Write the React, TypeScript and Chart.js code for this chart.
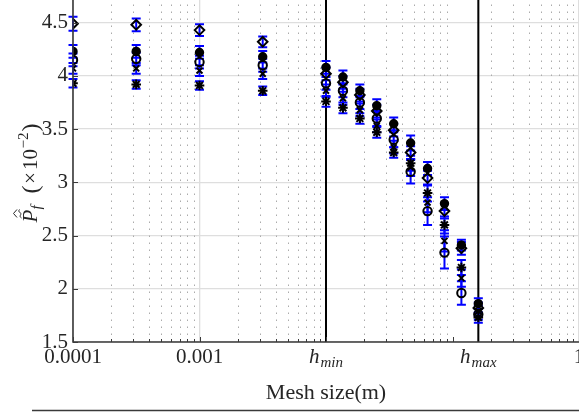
import React, { useEffect, useRef } from 'react';
import { Chart, registerables } from 'chart.js';

Chart.register(...registerables);

// Mesh sizes (m) at which the estimators were evaluated
const meshSizes = [
  0.0001, 0.000316, 0.001, 0.00316, 0.01, 0.01361, 0.01852, 0.0252, 0.03429, 0.04666, 0.0635,
  0.08641, 0.11758, 0.16,
];

const H_MIN = 0.01;
const H_MAX = 0.16;

// Estimated failure probability (x10^-2), one list per estimator
const diamondValues = [4.49, 4.48, 4.43, 4.32, 4.02, 3.94, 3.82, 3.67, 3.49, 3.28, 3.04, 2.73, 2.38, 1.82];
const dotValues = [4.23, 4.23, 4.22, 4.18, 4.08, 3.99, 3.86, 3.72, 3.55, 3.37, 3.13, 2.8, 2.41, 1.86];
const circleValues = [4.15, 4.16, 4.13, 4.1, 3.93, 3.86, 3.75, 3.6, 3.4, 3.1, 2.73, 2.34, 1.96, 1.76];
const crossValues = [4.07, 4.07, 4.05, 4.02, 3.86, 3.79, 3.68, 3.53, 3.33, 3.14, 2.81, 2.45, 2.1, 1.79];
const starValues = [3.93, 3.92, 3.91, 3.86, 3.76, 3.7, 3.6, 3.47, 3.28, 3.18, 2.9, 2.6, 2.2, 1.73];

// Half-widths of the confidence intervals
const diamondErrors = [0.065, 0.06, 0.055, 0.05, 0.06, 0.06, 0.06, 0.06, 0.06, 0.06, 0.07, 0.07, 0.06, 0.05];
const dotErrors = [0.06, 0.06, 0.06, 0.055, 0.06, 0.06, 0.06, 0.06, 0.06, 0.07, 0.06, 0.06, 0.05, 0.05];
const circleErrors = [0.06, 0.06, 0.06, 0.06, 0.06, 0.06, 0.06, 0.07, 0.07, 0.11, 0.13, 0.15, 0.11, 0.05];
const crossErrors = [0.05, 0.05, 0.05, 0.05, 0.06, 0.06, 0.06, 0.06, 0.06, 0.08, 0.09, 0.1, 0.08, 0.05];
const starErrors = [0.04, 0.04, 0.04, 0.04, 0.05, 0.05, 0.05, 0.05, 0.05, 0.07, 0.08, 0.08, 0.07, 0.05];

const yTickValues = [1.5, 2, 2.5, 3, 3.5, 4, 4.5];
const xTickValues = [0.0001, 0.001, H_MIN, H_MAX, 1];
const xTickText = ['0.0001', '0.001', 'h', 'h', '1'];
const xTickSubscripts = ['', '', 'min', 'max', ''];

const SERIF = '"Liberation Serif", "Times New Roman", serif';
const AXIS_COLOR = '#3a3a3a';
const TEXT_COLOR = '#262626';

type Series = {
  values: number[];
  errors: number[];
  pointStyle: string;
  radius: number;
  filled: boolean;
};

const seriesList: Series[] = [
  { values: diamondValues, errors: diamondErrors, pointStyle: 'rectRot', radius: 4.8, filled: false },
  { values: dotValues, errors: dotErrors, pointStyle: 'circle', radius: 3.7, filled: true },
  { values: circleValues, errors: circleErrors, pointStyle: 'circle', radius: 4.2, filled: false },
  { values: crossValues, errors: crossErrors, pointStyle: 'crossRot', radius: 4.2, filled: false },
  { values: starValues, errors: starErrors, pointStyle: 'star', radius: 4.8, filled: false },
];

function drawYTitle(ctx: CanvasRenderingContext2D, cx: number, cy: number) {
  ctx.save();
  ctx.translate(cx, cy);
  ctx.rotate(-Math.PI / 2);
  ctx.fillStyle = TEXT_COLOR;
  ctx.strokeStyle = TEXT_COLOR;
  ctx.textBaseline = 'alphabetic';
  ctx.textAlign = 'left';
  const parts = [
    { t: 'P', f: `italic 21px ${SERIF}`, dy: 0, gap: 0 },
    { t: 'f', f: `italic 15px ${SERIF}`, dy: 4, gap: 0 },
    { t: '(', f: `24px ${SERIF}`, dy: 1, gap: 12 },
    { t: '×', f: `21px ${SERIF}`, dy: 0, gap: 1.5 },
    { t: '10', f: `21px ${SERIF}`, dy: 0, gap: 2 },
    { t: '−2', f: `15px ${SERIF}`, dy: -9, gap: 0.5 },
    { t: ')', f: `24px ${SERIF}`, dy: 1, gap: 1 },
  ];
  let total = 0;
  const widths = parts.map((p) => {
    ctx.font = p.f;
    const w = ctx.measureText(p.t).width;
    total += p.gap + w;
    return w;
  });
  let xPos = -total / 2;
  let pStart = 0;
  parts.forEach((p, i) => {
    xPos += p.gap;
    if (i === 0) pStart = xPos;
    ctx.font = p.f;
    ctx.fillText(p.t, xPos, p.dy);
    xPos += widths[i];
  });
  // tilde and hat accents above P
  const ax = pStart + widths[0] / 2 + 2;
  ctx.lineWidth = 1;
  ctx.beginPath();
  ctx.moveTo(ax - 4, -15.5);
  ctx.bezierCurveTo(ax - 2, -19, ax, -14.5, ax + 1, -16.5);
  ctx.bezierCurveTo(ax + 2, -18.5, ax + 3.5, -18.5, ax + 4.5, -17.5);
  ctx.stroke();
  ctx.beginPath();
  ctx.moveTo(ax - 3.5, -20);
  ctx.lineTo(ax + 0.5, -23.5);
  ctx.lineTo(ax + 4.5, -20);
  ctx.stroke();
  ctx.restore();
}

const decorPlugin = {
  id: 'meshDecor',
  beforeDatasetsDraw(chart: any) {
    const { ctx, chartArea } = chart;
    const x = chart.scales.x;
    const y = chart.scales.y;
    ctx.save();

    // dotted minor grid for the log axis
    ctx.strokeStyle = '#ababab';
    ctx.lineWidth = 1;
    ctx.setLineDash([1.5, 5.5]);
    for (let e = -4; e < 0; e++) {
      const decade = Math.pow(10, e);
      for (let m = 2; m <= 9; m++) {
        const px = Math.round(x.getPixelForValue(m * decade)) + 0.5;
        ctx.beginPath();
        ctx.moveTo(px, chartArea.bottom);
        ctx.lineTo(px, chartArea.top);
        ctx.stroke();
      }
    }
    ctx.setLineDash([]);

    // h_min and h_max markers
    ctx.strokeStyle = '#000';
    ctx.lineWidth = 2;
    [H_MIN, H_MAX].forEach((h) => {
      const px = x.getPixelForValue(h);
      ctx.beginPath();
      ctx.moveTo(px, chartArea.top);
      ctx.lineTo(px, chartArea.bottom);
      ctx.stroke();
    });

    // confidence intervals
    ctx.strokeStyle = '#0000ff';
    ctx.lineWidth = 2;
    seriesList.forEach((s) => {
      s.values.forEach((v, i) => {
        const px = x.getPixelForValue(meshSizes[i]);
        const top = y.getPixelForValue(v + s.errors[i]);
        const bot = y.getPixelForValue(v - s.errors[i]);
        ctx.beginPath();
        ctx.moveTo(px, top);
        ctx.lineTo(px, bot);
        ctx.moveTo(px - 4.5, top);
        ctx.lineTo(px + 4.5, top);
        ctx.moveTo(px - 4.5, bot);
        ctx.lineTo(px + 4.5, bot);
        ctx.stroke();
      });
    });
    ctx.restore();
  },
  afterDraw(chart: any) {
    const { ctx, chartArea } = chart;
    const x = chart.scales.x;
    const y = chart.scales.y;
    ctx.save();

    // axis lines
    ctx.strokeStyle = AXIS_COLOR;
    ctx.lineWidth = 1.6;
    ctx.beginPath();
    ctx.moveTo(chartArea.left, chartArea.top);
    ctx.lineTo(chartArea.left, chartArea.bottom);
    ctx.lineTo(chartArea.right, chartArea.bottom);
    ctx.stroke();

    // inward ticks
    ctx.lineWidth = 1;
    ctx.beginPath();
    yTickValues.forEach((v) => {
      const py = Math.round(y.getPixelForValue(v)) + 0.5;
      ctx.moveTo(chartArea.left, py);
      ctx.lineTo(chartArea.left + 5, py);
    });
    for (let e = -4; e < 0; e++) {
      const decade = Math.pow(10, e);
      for (let m = 1; m <= 9; m++) {
        const px = Math.round(x.getPixelForValue(m * decade)) + 0.5;
        ctx.moveTo(px, chartArea.bottom);
        ctx.lineTo(px, chartArea.bottom - (m === 1 ? 5 : 3));
      }
    }
    ctx.stroke();

    // x tick labels
    ctx.fillStyle = TEXT_COLOR;
    ctx.textBaseline = 'alphabetic';
    xTickValues.forEach((v, i) => {
      const px = x.getPixelForValue(v);
      const main = xTickText[i];
      const sub = xTickSubscripts[i];
      if (!sub) {
        ctx.font = `21px ${SERIF}`;
        ctx.textAlign = 'center';
        ctx.fillText(main, px, chartArea.bottom + 21);
      } else {
        ctx.font = `italic 21px ${SERIF}`;
        const wMain = ctx.measureText(main).width;
        ctx.font = `italic 15px ${SERIF}`;
        const wSub = ctx.measureText(sub).width;
        const start = px - (wMain + wSub + 1) / 2;
        ctx.textAlign = 'left';
        ctx.font = `italic 21px ${SERIF}`;
        ctx.fillText(main, start, chartArea.bottom + 21);
        ctx.font = `italic 15px ${SERIF}`;
        ctx.fillText(sub, start + wMain + 1, chartArea.bottom + 25);
      }
    });

    // x axis title
    ctx.font = `22px ${SERIF}`;
    ctx.textAlign = 'center';
    ctx.fillText('Mesh size(m)', (chartArea.left + chartArea.right) / 2, chartArea.bottom + 57);

    // y axis title
    drawYTitle(ctx, 37, 173);

    // top edge of the legend box below the axes
    ctx.strokeStyle = AXIS_COLOR;
    ctx.lineWidth = 1.5;
    ctx.beginPath();
    ctx.moveTo(32, 410.5);
    ctx.lineTo(chart.width, 410.5);
    ctx.stroke();

    ctx.restore();
  },
};

export default function App() {
  const canvasRef = useRef<HTMLCanvasElement | null>(null);

  useEffect(() => {
    const canvas = canvasRef.current;
    if (!canvas) return;
    const datasets = seriesList.map((s, idx) => ({
      label: `estimator ${idx + 1}`,
      data: s.values.map((v, i) => ({ x: meshSizes[i], y: v })),
      showLine: false,
      pointStyle: s.pointStyle,
      pointRadius: s.radius,
      pointHoverRadius: s.radius,
      pointBorderWidth: 2,
      pointBorderColor: '#000',
      pointBackgroundColor: s.filled ? '#000' : 'rgba(0,0,0,0)',
      borderColor: '#000',
      backgroundColor: s.filled ? '#000' : 'rgba(0,0,0,0)',
    }));

    const chart = new Chart(canvas, {
      type: 'scatter',
      data: { datasets },
      options: {
        animation: false,
        responsive: false,
        devicePixelRatio: 1,
        layout: { padding: 0, autoPadding: false },
        plugins: {
          legend: { display: false },
          tooltip: { enabled: false },
        },
        scales: {
          x: {
            type: 'logarithmic',
            position: 'bottom',
            min: 0.0001,
            max: 1,
            border: { display: false },
            grid: { color: '#dedede', lineWidth: 1.3, drawTicks: false },
            ticks: { display: false },
            afterBuildTicks: (axis: any) => {
              axis.ticks = xTickValues.map((v) => ({ value: v }));
            },
            afterFit: (axis: any) => {
              axis.height = 72;
              axis.paddingLeft = 0;
              axis.paddingRight = 0;
            },
          },
          y: {
            type: 'linear',
            min: 1.5,
            max: 4.713,
            border: { display: false },
            grid: { color: '#dedede', lineWidth: 1.3, drawTicks: false },
            ticks: {
              padding: 5,
              color: TEXT_COLOR,
              font: { family: SERIF, size: 21 },
              callback: (v: any) => String(v),
            },
            afterBuildTicks: (axis: any) => {
              axis.ticks = yTickValues.map((v) => ({ value: v }));
            },
            afterFit: (axis: any) => {
              axis.width = 73;
              axis.paddingTop = 0;
              axis.paddingBottom = 0;
            },
          },
        },
      } as any,
      plugins: [decorPlugin],
    });

    return () => {
      chart.destroy();
    };
  }, []);

  return (
    <div style={{ position: 'fixed', left: 0, top: 0, width: 579, height: 414, background: '#fff' }}>
      <canvas ref={canvasRef} width={579} height={414} style={{ display: 'block' }} />
    </div>
  );
}
